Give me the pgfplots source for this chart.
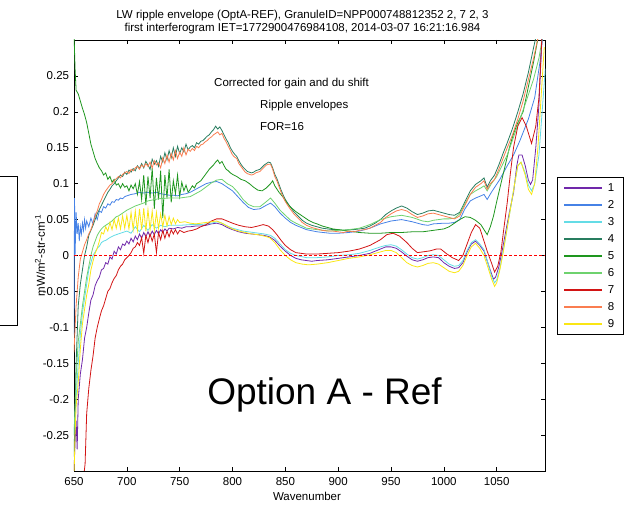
\documentclass[border=0pt]{standalone}
\usepackage{fontspec}
\setmainfont{Liberation Sans}
\usepackage{xcolor}
\usepackage{pgfplots}
\pgfplotsset{compat=1.18}
\definecolor{c1}{RGB}{112,40,170}
\definecolor{c2}{RGB}{70,130,230}
\definecolor{c3}{RGB}{100,220,230}
\definecolor{c4}{RGB}{40,125,95}
\definecolor{c5}{RGB}{30,150,30}
\definecolor{c6}{RGB}{110,210,110}
\definecolor{c7}{RGB}{210,20,20}
\definecolor{c8}{RGB}{250,125,80}
\definecolor{c9}{RGB}{250,230,20}
\definecolor{zeroline}{RGB}{255,0,0}
\newcommand{\fs}{\fontsize{11.5}{13.8}\selectfont}
\begin{document}
\begin{tikzpicture}[x=1pt,y=1pt]
\useasboundingbox (-74,-35) rectangle (551,471);
\begin{axis}[
  at={(0,0)}, anchor=south west,
  scale only axis, width=471.3pt, height=431pt,
  xmin=650, xmax=1096, ymin=-0.3, ymax=0.3,
  xtick={650,700,750,800,850,900,950,1000,1050},
  xticklabels={650,700,750,800,850,900,950,1000,1050},
  ytick={-0.25,-0.2,-0.15,-0.1,-0.05,0,0.05,0.1,0.15,0.2,0.25},
  yticklabels={-0.25,-0.2,-0.15,-0.1,-0.05,0,0.05,0.1,0.15,0.2,0.25},
  tick align=inside, major tick length=4pt,
  tick style={black, line width=0.6pt},
  axis line style={line width=0.8pt},
  ticklabel style={font=\fs},
  xticklabel style={inner sep=0pt, yshift=-6.6pt},
  yticklabel style={inner sep=0pt, xshift=-4.7pt},
  every axis plot/.append style={line width=0.8pt},
  legend style={at={(rel axis cs:1.0255,0.6828)}, anchor=north west,
    line width=1.1pt, inner xsep=5.5pt, inner ysep=6.5pt,
    row sep=9pt, column sep=5pt, font=\fs,
    nodes={inner sep=0pt, text height=8pt, text depth=0pt}},
  legend cell align=left,
  legend image code/.code={\draw[#1, line width=1.8pt] (0pt,0pt) -- (37.7pt,0pt);},
]
% 1 purple
\addplot[color=c1] table {
650 -0.3
651 -0.26
652 -0.23
653 -0.27
654 -0.2
656 -0.165
658 -0.145
660 -0.115
662 -0.1
664 -0.08
666 -0.062
668 -0.055
670 -0.042
672 -0.035
674 -0.03
676 -0.02
678 -0.018
680 -0.01
682 -0.012
684 -0.002
686 -0.005
688 0.006
690 0.002
692 0.012
694 0.008
696 0.016
698 0.014
700 0.02
702 0.016
704 0.024
706 0.019
708 0.027
710 0.022
712 0.03
714 0.024
716 0.032
718 0.026
720 0.033
722 0.027
724 0.034
726 0.029
728 0.035
730 0.03
732 0.036
734 0.032
736 0.037
738 0.034
740 0.038
744 0.037
748 0.039
752 0.038
756 0.04
760 0.04
765 0.041
770 0.041
775 0.042
780 0.044
785 0.045
790 0.043
795 0.039
800 0.036
806 0.033
812 0.031
818 0.03
824 0.029
830 0.028
835 0.026
840 0.021
845 0.013
850 0.006
855 0.0
860 -0.004
865 -0.006
870 -0.007
875 -0.008
880 -0.007
890 -0.006
900 -0.004
910 -0.002
920 0.0
930 0.003
940 0.009
945 0.012
950 0.012
955 0.01
960 0.005
965 -0.001
970 -0.006
975 -0.008
980 -0.006
985 -0.003
990 -0.002
995 -0.003
1000 -0.01
1005 -0.015
1010 -0.018
1014 -0.017
1018 -0.01
1022 0.005
1026 0.016
1030 0.02
1034 0.014
1038 0.006
1042 -0.012
1045 -0.025
1047 -0.033
1049 -0.03
1052 -0.016
1055 0.005
1058 0.029
1062 0.06
1066 0.088
1069 0.125
1071 0.14
1074 0.14
1077 0.125
1080 0.105
1082 0.099
1084 0.105
1087 0.15
1090 0.21
1093 0.31
};
\addlegendentry{\makebox[10pt][l]{1}}
% 2 blue
\addplot[color=c2] table {
650 -0.11
650.5 0.08
651 0.0
652 0.06
653 0.03
654 0.045
655 0.02
656 0.04
657 0.03
658 0.045
659 0.035
660 0.05
661 0.038
662 0.048
664 0.04
666 0.052
668 0.044
670 0.058
672 0.05
674 0.062
676 0.06
678 0.068
680 0.066
682 0.072
684 0.07
686 0.075
688 0.074
690 0.078
692 0.077
694 0.08
696 0.079
698 0.082
700 0.083
704 0.085
708 0.086
712 0.088
716 0.087
720 0.088
724 0.087
728 0.088
732 0.086
736 0.085
740 0.084
744 0.084
748 0.083
752 0.085
756 0.086
760 0.088
765 0.092
770 0.096
775 0.1
780 0.102
785 0.103
790 0.1
795 0.095
800 0.09
805 0.082
810 0.074
815 0.067
820 0.064
826 0.065
832 0.07
836 0.073
840 0.068
845 0.059
850 0.052
855 0.046
860 0.042
870 0.036
880 0.033
892 0.031
900 0.031
910 0.032
920 0.034
930 0.038
940 0.044
950 0.048
960 0.05
970 0.047
980 0.043
985 0.042
990 0.044
1000 0.045
1005 0.045
1010 0.046
1015 0.05
1020 0.065
1025 0.076
1030 0.08
1035 0.083
1038 0.085
1041 0.078
1045 0.088
1053 0.106
1060 0.125
1066 0.14
1072 0.16
1080 0.19
1086 0.22
1091 0.27
1094 0.31
};
\addlegendentry{\makebox[10pt][l]{2}}
% 3 cyan
\addplot[color=c3] table {
650 -0.25
651 -0.22
652 -0.2
654 -0.15
656 -0.11
658 -0.08
660 -0.06
662 -0.04
664 -0.02
666 -0.01
668 0.0
670 0.005
672 0.01
674 0.013
676 0.018
678 0.02
680 0.021
684 0.025
688 0.028
692 0.03
696 0.032
700 0.034
704 0.031
708 0.04
712 0.033
716 0.042
720 0.035
724 0.043
728 0.038
732 0.042
736 0.04
740 0.042
750 0.042
760 0.043
770 0.043
780 0.045
786 0.047
790 0.045
795 0.041
800 0.038
810 0.034
820 0.032
830 0.03
836 0.028
840 0.024
845 0.016
850 0.008
855 0.003
860 0.0
870 -0.003
880 -0.003
890 -0.002
900 0.0
910 0.001
920 0.003
930 0.007
940 0.012
945 0.014
950 0.015
955 0.013
960 0.008
965 0.002
970 -0.003
975 -0.005
980 -0.003
985 0.0
990 0.001
995 0.0
1000 -0.006
1005 -0.012
1010 -0.015
1014 -0.014
1018 -0.007
1022 0.007
1026 0.018
1030 0.022
1034 0.016
1038 0.008
1042 -0.012
1045 -0.028
1048 -0.038
1050 -0.034
1053 -0.018
1056 0.005
1059 0.03
1063 0.065
1067 0.1
1070 0.125
1073 0.13
1077 0.115
1080 0.098
1083 0.09
1086 0.1
1090 0.14
1093 0.2
1096 0.26
};
\addlegendentry{\makebox[10pt][l]{3}}
% 4 teal
\addplot[color=c4] table {
650 -0.28
652 -0.15
654 -0.07
656 -0.04
658 -0.02
660 0.0
662 0.012
664 0.028
666 0.035
668 0.042
670 0.05
672 0.058
674 0.064
676 0.07
678 0.076
680 0.082
682 0.088
684 0.092
686 0.097
688 0.1
690 0.104
692 0.108
694 0.112
696 0.11
698 0.116
700 0.113
702 0.119
704 0.116
706 0.121
708 0.118
710 0.125
712 0.121
714 0.128
716 0.122
718 0.131
720 0.126
722 0.12
724 0.134
726 0.127
728 0.132
730 0.124
732 0.138
734 0.13
736 0.143
738 0.133
740 0.146
742 0.136
744 0.15
746 0.138
748 0.152
750 0.142
752 0.15
754 0.144
756 0.155
758 0.147
760 0.151
762 0.153
764 0.15
766 0.157
768 0.155
770 0.159
772 0.16
774 0.163
776 0.166
778 0.168
780 0.172
782 0.175
784 0.18
786 0.176
788 0.179
790 0.174
792 0.168
794 0.162
796 0.157
798 0.15
800 0.145
802 0.141
804 0.138
806 0.132
808 0.127
810 0.123
812 0.12
814 0.117
816 0.116
818 0.115
820 0.116
822 0.118
824 0.119
826 0.12
828 0.123
830 0.126
832 0.128
834 0.13
836 0.129
838 0.122
840 0.113
842 0.107
844 0.099
846 0.091
848 0.084
850 0.078
854 0.069
858 0.061
862 0.055
866 0.049
870 0.045
875 0.042
880 0.04
885 0.038
890 0.037
895 0.036
900 0.036
905 0.035
910 0.036
915 0.036
920 0.037
925 0.038
930 0.041
935 0.045
940 0.05
945 0.057
950 0.062
955 0.066
960 0.069
965 0.066
970 0.061
975 0.057
980 0.059
985 0.062
990 0.063
995 0.061
1000 0.059
1005 0.057
1010 0.056
1015 0.06
1020 0.075
1025 0.09
1030 0.099
1035 0.104
1038 0.108
1041 0.095
1044 0.104
1048 0.112
1052 0.126
1056 0.142
1060 0.157
1065 0.177
1070 0.2
1075 0.225
1080 0.255
1085 0.29
1088 0.31
};
\addlegendentry{\makebox[10pt][l]{4}}
% 5 green
\addplot[color=c5] table {
650 0.31
651 0.26
652 0.23
654 0.225
656 0.215
658 0.205
660 0.196
662 0.185
664 0.17
666 0.155
668 0.145
670 0.135
672 0.128
674 0.122
676 0.118
678 0.112
680 0.115
682 0.106
684 0.11
686 0.102
688 0.106
690 0.098
692 0.1
694 0.094
696 0.1
698 0.095
700 0.097
702 0.09
704 0.098
706 0.093
708 0.1
710 0.085
712 0.103
714 0.078
716 0.112
718 0.07
720 0.11
722 0.08
724 0.122
726 0.065
728 0.108
730 0.078
732 0.118
734 0.052
736 0.112
738 0.08
740 0.12
742 0.074
744 0.104
746 0.086
748 0.112
750 0.082
752 0.102
754 0.09
756 0.098
758 0.088
760 0.092
762 0.097
764 0.094
766 0.1
768 0.102
770 0.104
772 0.108
774 0.112
776 0.116
778 0.12
780 0.123
782 0.126
784 0.13
786 0.133
788 0.128
790 0.131
792 0.125
794 0.12
796 0.118
798 0.115
800 0.113
804 0.11
808 0.106
812 0.104
816 0.1
820 0.095
824 0.091
828 0.09
832 0.094
836 0.1
838 0.104
840 0.097
844 0.088
848 0.081
852 0.072
856 0.066
860 0.061
864 0.057
868 0.053
872 0.049
876 0.046
880 0.044
885 0.041
890 0.039
895 0.037
900 0.036
910 0.034
920 0.032
930 0.031
940 0.031
950 0.032
960 0.032
970 0.033
980 0.033
990 0.035
1000 0.037
1005 0.04
1010 0.045
1015 0.05
1020 0.054
1025 0.053
1030 0.049
1035 0.043
1038 0.036
1041 0.029
1044 0.04
1047 0.055
1050 0.075
1054 0.1
1058 0.125
1062 0.15
1066 0.17
1070 0.185
1075 0.2
1080 0.235
1085 0.27
1090 0.31
};
\addlegendentry{\makebox[10pt][l]{5}}
% 6 light green
\addplot[color=c6] table {
650 -0.25
652 -0.17
654 -0.12
656 -0.095
658 -0.07
660 -0.05
662 -0.03
664 -0.015
666 0.0
668 0.012
670 0.02
672 0.028
674 0.033
676 0.037
678 0.04
680 0.042
682 0.044
684 0.046
686 0.048
688 0.051
690 0.054
692 0.055
694 0.057
696 0.059
698 0.061
700 0.063
704 0.066
708 0.069
712 0.071
716 0.073
720 0.076
730 0.079
740 0.08
750 0.08
760 0.082
770 0.09
780 0.101
785 0.105
790 0.106
795 0.1
800 0.096
805 0.088
810 0.078
815 0.071
820 0.068
826 0.068
832 0.075
836 0.08
840 0.073
845 0.063
850 0.056
855 0.049
860 0.045
870 0.038
880 0.036
892 0.034
900 0.035
910 0.036
920 0.038
930 0.043
940 0.05
950 0.054
960 0.056
970 0.053
980 0.048
985 0.047
990 0.049
1000 0.051
1005 0.051
1010 0.052
1015 0.058
1020 0.072
1025 0.085
1030 0.09
1035 0.094
1038 0.097
1041 0.09
1045 0.1
1050 0.11
1055 0.125
1060 0.14
1066 0.165
1072 0.19
1078 0.215
1085 0.246
1090 0.275
1094 0.31
};
\addlegendentry{\makebox[10pt][l]{6}}
% 7 red
\addplot[color=c7] table {
659 -0.31
660.5 -0.29
662 -0.22
664 -0.185
666 -0.16
668 -0.14
670 -0.115
672 -0.1
674 -0.088
676 -0.077
678 -0.07
680 -0.06
682 -0.05
684 -0.046
686 -0.038
688 -0.032
690 -0.028
692 -0.02
694 -0.015
696 -0.012
698 -0.006
700 -0.003
702 0.0
704 0.004
706 0.01
708 0.012
710 0.018
712 0.014
714 0.025
716 0.003
718 0.028
720 0.018
722 0.03
724 0.02
726 0.03
728 0.004
730 0.032
732 0.022
734 0.035
736 0.024
738 0.034
740 0.026
742 0.036
744 0.03
746 0.036
748 0.03
750 0.035
754 0.032
758 0.034
762 0.035
766 0.037
770 0.04
775 0.043
780 0.048
785 0.051
790 0.051
795 0.048
800 0.045
806 0.042
812 0.04
818 0.039
824 0.041
829 0.043
834 0.041
838 0.036
842 0.029
846 0.021
850 0.014
855 0.008
860 0.004
870 0.002
880 0.002
890 0.003
900 0.004
910 0.006
920 0.009
930 0.014
940 0.022
946 0.029
952 0.031
958 0.027
965 0.018
970 0.01
975 0.004
980 0.005
987 0.0065
993 0.009
997 0.009
1003 0.002
1008 -0.003
1014 -0.007
1018 0.0
1022 0.016
1026 0.032
1030 0.043
1034 0.038
1038 0.02
1041 0.006
1045 -0.01
1048 -0.023
1051 -0.015
1054 0.005
1057 0.04
1060 0.074
1063 0.115
1066 0.151
1070 0.18
1074 0.192
1078 0.18
1083 0.156
1087 0.18
1090 0.22
1093 0.31
};
\addlegendentry{\makebox[10pt][l]{7}}
% 8 coral
\addplot[color=c8] table {
650 -0.135
652 -0.07
654 -0.03
656 -0.005
658 0.005
660 0.015
662 0.022
664 0.03
666 0.036
668 0.045
670 0.055
672 0.062
674 0.072
676 0.078
678 0.085
680 0.09
682 0.094
684 0.098
686 0.1
688 0.104
690 0.107
692 0.11
694 0.108
696 0.113
698 0.115
700 0.117
702 0.114
704 0.12
706 0.118
708 0.122
710 0.124
712 0.12
714 0.126
716 0.123
718 0.128
720 0.124
722 0.13
724 0.122
726 0.132
728 0.126
730 0.129
732 0.122
734 0.136
736 0.128
738 0.14
740 0.13
742 0.142
744 0.133
746 0.146
748 0.135
750 0.144
752 0.138
754 0.15
756 0.14
758 0.148
760 0.145
762 0.149
764 0.146
766 0.152
768 0.15
770 0.154
772 0.155
774 0.158
776 0.16
778 0.163
780 0.165
782 0.168
784 0.17
786 0.172
788 0.168
790 0.17
792 0.163
794 0.158
796 0.152
798 0.146
800 0.14
802 0.137
804 0.135
806 0.128
808 0.124
810 0.12
812 0.116
814 0.114
816 0.113
818 0.112
820 0.113
822 0.115
824 0.116
826 0.117
828 0.12
830 0.123
832 0.126
834 0.127
836 0.127
838 0.12
840 0.11
842 0.104
844 0.096
846 0.088
848 0.081
850 0.075
854 0.066
858 0.058
862 0.052
866 0.046
870 0.042
875 0.039
880 0.037
885 0.035
890 0.034
895 0.034
900 0.033
905 0.032
910 0.034
915 0.033
920 0.035
925 0.036
930 0.038
935 0.042
940 0.046
945 0.053
950 0.058
955 0.062
960 0.064
965 0.062
970 0.057
975 0.053
980 0.055
985 0.058
990 0.059
995 0.057
1000 0.055
1005 0.053
1010 0.051
1015 0.055
1020 0.07
1025 0.085
1030 0.095
1035 0.1
1038 0.104
1041 0.092
1044 0.1
1048 0.106
1052 0.12
1056 0.135
1060 0.15
1065 0.168
1070 0.19
1075 0.215
1080 0.245
1085 0.275
1090 0.31
};
\addlegendentry{\makebox[10pt][l]{8}}
% 9 yellow
\addplot[color=c9] table {
650 -0.31
651 -0.25
652 -0.21
654 -0.177
656 -0.13
658 -0.095
660 -0.075
662 -0.055
664 -0.04
666 -0.02
668 -0.008
670 0.003
672 0.01
674 0.02
676 0.032
678 0.03
680 0.04
682 0.034
684 0.046
686 0.036
688 0.05
690 0.038
692 0.052
694 0.037
696 0.055
698 0.038
700 0.056
702 0.037
704 0.06
706 0.036
708 0.062
710 0.035
712 0.065
714 0.036
716 0.066
718 0.034
720 0.064
722 0.036
724 0.062
726 0.035
728 0.06
730 0.038
732 0.058
734 0.04
736 0.056
738 0.041
740 0.054
742 0.043
744 0.052
746 0.044
748 0.05
750 0.046
755 0.047
760 0.045
765 0.044
770 0.045
775 0.046
780 0.047
785 0.048
790 0.045
795 0.041
800 0.037
806 0.034
812 0.032
818 0.03
824 0.029
830 0.027
835 0.025
840 0.018
845 0.008
850 0.0
855 -0.006
860 -0.01
866 -0.012
872 -0.013
880 -0.012
890 -0.01
900 -0.007
910 -0.004
920 -0.002
930 0.001
940 0.005
945 0.007
950 0.007
955 0.004
960 -0.003
965 -0.01
970 -0.014
975 -0.016
980 -0.014
985 -0.011
990 -0.01
995 -0.012
1000 -0.017
1005 -0.022
1010 -0.024
1014 -0.022
1018 -0.014
1022 0.0
1026 0.012
1030 0.017
1034 0.01
1038 0.0
1042 -0.018
1045 -0.032
1048 -0.043
1050 -0.038
1053 -0.02
1056 0.003
1059 0.03
1063 0.065
1067 0.1
1070 0.125
1073 0.13
1077 0.112
1080 0.092
1083 0.085
1086 0.1
1089 0.15
1092 0.22
1095 0.29
};
\addlegendentry{\makebox[10pt][l]{9}}
\addplot[color=zeroline, forget plot, line width=1.3pt, dash pattern=on 3pt off 2pt] coordinates {(650,0) (1096,0)};
\end{axis}
\node[font=\fs, anchor=base] at (228.5,452.4) {LW ripple envelope (OptA-REF), GranuleID=NPP000748812352 2, 7 2, 3};
\node[font=\fs, anchor=base] at (228.5,439.9) {first interferogram IET=1772900476984108, 2014-03-07 16:21:16.984};
\node[font=\fs, anchor=base] at (233,-30) {Wavenumber};
\node[font=\fs, rotate=90, anchor=center] at (-34,215.5) {mW/m\textsuperscript{2}-str-cm\textsuperscript{-1}};
\node[font=\fs, anchor=west, inner sep=0pt] at (140,387.5) {Corrected for gain and du shift};
\node[font=\fs, anchor=west, inner sep=0pt] at (186,365.3) {Ripple envelopes};
\node[font=\fs, anchor=west, inner sep=0pt] at (186,344.3) {FOR=16};
\node[font=\fontsize{37}{40}\selectfont, anchor=base, inner sep=0pt] at (250.5,66) {Option A - Ref};
\draw[line width=0.8pt] (-90,295) rectangle (-57,146);
\end{tikzpicture}
\end{document}
